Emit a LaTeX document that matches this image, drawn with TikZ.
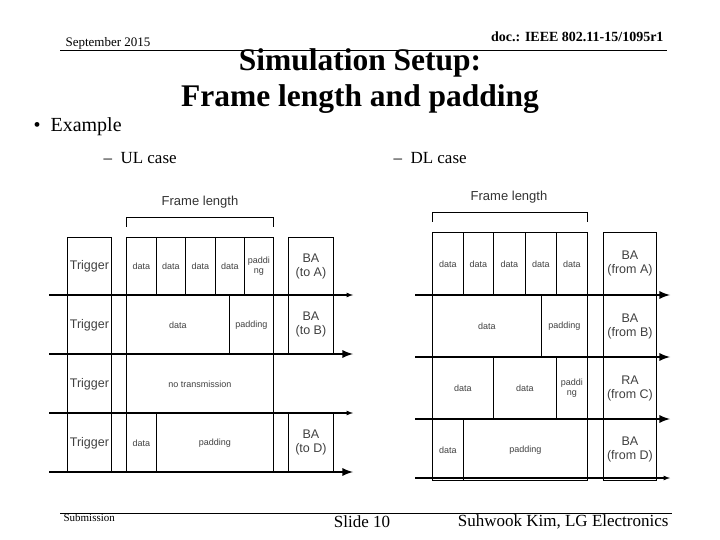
\documentclass[tikz,border=0pt]{standalone}
\usepackage{fontspec}
\setmainfont{Liberation Serif}
\newfontfamily\dsans{Liberation Sans}
\begin{document}
\begin{tikzpicture}[x=1pt,y=-1pt,
  cellbox/.style={draw,line width=0.9pt,inner sep=0pt,align=center,font=\dsans\fontsize{9}{10}\selectfont,text=black!75},
  bigcell/.style={cellbox,font=\dsans\fontsize{12.5}{14}\selectfont},
  axis/.style={-latex,line width=1.2pt},
  thick axis/.style={-latex,line width=2.6pt},
  brk/.style={draw,line width=0.8pt}]
\useasboundingbox (0,0) rectangle (720,540);
\newcommand\cellq[7][cellbox]{\node[#1,minimum width={#5-#3},minimum height={#6-#4},anchor=north west] (#2) at (#3,#4) {#7};}
% header
\node[anchor=west,font=\fontsize{13}{14}\selectfont] (date) at (62,43) {September 2015};
\node[anchor=east,font=\bfseries\fontsize{14}{15}\selectfont] (doc) at (667,37) {doc.: IEEE 802.11-15/1095r1};
\coordinate (h1) at (60,50); \coordinate (h2) at (667,50);
\draw[line width=0.8pt] (h1) -- (h2);
\node[font=\bfseries\fontsize{31.5}{36}\selectfont,align=center] (title) at (360,81) {Simulation Setup:\\Frame length and padding};
\node[anchor=west,font=\fontsize{20}{22}\selectfont] (ex) at (30,127) {\textbullet\ \ Example};
\node[anchor=west,font=\fontsize{17}{19}\selectfont] (ul) at (100,158) {--\ \ UL case};
\node[anchor=west,font=\fontsize{17}{19}\selectfont] (dl) at (390,158) {--\ \ DL case};
% footer
\coordinate (f1) at (60,513); \coordinate (f2) at (672,513);
\draw[line width=0.8pt] (f1) -- (f2);
\node[anchor=west,font=\fontsize{11}{12}\selectfont] (sub) at (60,518) {Submission};
\node[font=\fontsize{17}{19}\selectfont] (slide) at (362,522) {Slide 10};
\node[anchor=east,font=\fontsize{17}{19}\selectfont] (auth) at (672,522) {Suhwook Kim, LG Electronics};
% ---- UL diagram
\node[font=\dsans\fontsize{13}{14}\selectfont,text=black!80] (ulfl) at (200,202) {Frame length};
\coordinate (ub1) at (126,227); \coordinate (ub2) at (126,217); \coordinate (ub3) at (273,217); \coordinate (ub4) at (273,227);
\draw[brk] (ub1) -- (ub2) -- (ub3) -- (ub4);
\cellq[bigcell]{t1}{67}{237}{111}{295}{Trigger}
\cellq[bigcell]{t2}{67}{295}{111}{354}{Trigger}
\cellq[bigcell]{t3}{67}{354}{111}{413}{Trigger}
\cellq[bigcell]{t4}{67}{413}{111}{472}{Trigger}
\cellq[bigcell]{ba1}{288}{237}{333}{295}{BA\\(to A)}
\cellq[bigcell]{ba2}{288}{295}{333}{354}{BA\\(to B)}
\cellq[bigcell]{ba4}{288}{413}{333}{472}{BA\\(to D)}
\cellq{a1}{126}{237}{156}{295}{data}
\cellq{a2}{156}{237}{185}{295}{data}
\cellq{a3}{185}{237}{215}{295}{data}
\cellq{a4}{215}{237}{244}{295}{data}
\cellq{a5}{244}{237}{273}{295}{paddi\\ng}
\cellq{b1}{126}{295}{229}{354}{data}
\cellq{b2}{229}{295}{273}{354}{padding}
\cellq{c1}{126}{354}{273}{413}{no transmission}
\cellq{d1}{126}{413}{156}{472}{data}
\cellq{d2}{156}{413}{273}{472}{padding}
\foreach \y/\s [count=\i] in {295/axis,354/thick axis,413/axis,472/thick axis}{
  \coordinate (ula\i) at (49,\y); \coordinate (ulb\i) at (353,\y);
  \draw[\s] (ula\i) -- (ulb\i);}
% ---- DL diagram
\node[font=\dsans\fontsize{13}{14}\selectfont,text=black!80] (dlfl) at (509,197) {Frame length};
\coordinate (db1) at (432,222); \coordinate (db2) at (432,212); \coordinate (db3) at (587,212); \coordinate (db4) at (587,222);
\draw[brk] (db1) -- (db2) -- (db3) -- (db4);
\cellq[bigcell]{fa}{603}{232}{656}{295}{BA\\(from A)}
\cellq[bigcell]{fb}{603}{295}{656}{357}{BA\\(from B)}
\cellq[bigcell]{fc}{603}{357}{656}{419}{RA\\(from C)}
\cellq[bigcell]{fd}{603}{419}{656}{480}{BA\\(from D)}
\cellq{e1}{432}{232}{463}{295}{data}
\cellq{e2}{463}{232}{493}{295}{data}
\cellq{e3}{493}{232}{525}{295}{data}
\cellq{e4}{525}{232}{556}{295}{data}
\cellq{e5}{556}{232}{587}{295}{data}
\cellq{g1}{432}{295}{541}{357}{data}
\cellq{g2}{541}{295}{587}{357}{padding}
\cellq{k1}{432}{357}{493}{419}{data}
\cellq{k2}{493}{357}{556}{419}{data}
\cellq{k3}{556}{357}{587}{419}{paddi\\ng}
\cellq{m1}{432}{419}{463}{480}{data}
\cellq{m2}{463}{419}{587}{480}{padding}
\foreach \y/\s [count=\i] in {295/thick axis,357/thick axis,419/thick axis,478/axis}{
  \coordinate (dla\i) at (415,\y); \coordinate (dlb\i) at (670,\y);
  \draw[\s] (dla\i) -- (dlb\i);}
\end{tikzpicture}
\end{document}
